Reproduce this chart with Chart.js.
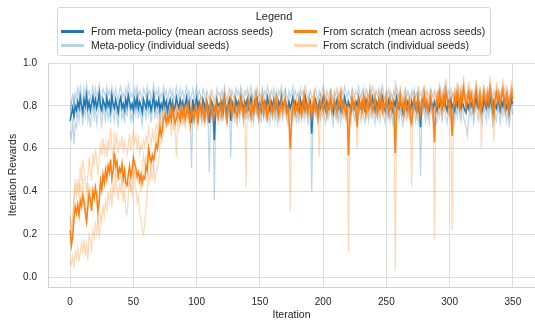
<!DOCTYPE html>
<html><head><meta charset="utf-8">
<script src="https://cdn.jsdelivr.net/npm/chart.js@4/dist/chart.umd.min.js"></script>
<style>
html,body{margin:0;padding:0;background:#fff;}
#wrap{position:relative;width:535px;height:322px;}
#legend{position:absolute;left:57px;top:7px;width:434px;height:49px;border:1px solid #d6d6d6;border-radius:3px;background:rgba(255,255,255,0.85);font-family:"Liberation Sans",Arial,sans-serif;color:#262626;box-sizing:border-box;}
#legend .t{position:absolute;left:0;right:0;top:2px;text-align:center;font-size:11px;line-height:13px;}
#legend .it{position:absolute;font-size:10.5px;line-height:12px;white-space:nowrap;}
#legend .sw{position:absolute;width:23px;height:2.5px;}
</style>
</head><body>
<div id="wrap">
<canvas id="c" width="535" height="322"></canvas>
<div id="legend">
  <div class="t">Legend</div>
  <div class="sw" style="left:3px;top:22px;background:#1f77b4"></div>
  <div class="it" style="left:33px;top:17px">From meta-policy (mean across seeds)</div>
  <div class="sw" style="left:3px;top:36px;background:#b8d2e6"></div>
  <div class="it" style="left:33px;top:31px">Meta-policy (individual seeds)</div>
  <div class="sw" style="left:236px;top:22px;background:#ff7f0e"></div>
  <div class="it" style="left:265px;top:17px">From scratch (mean across seeds)</div>
  <div class="sw" style="left:236px;top:36px;background:#ffd6b4"></div>
  <div class="it" style="left:265px;top:31px">From scratch (individual seeds)</div>
</div>
</div>
<script>
const xTicks = [0, 50, 100, 150, 200, 250, 300, 350];
const yTicks = [0.0, 0.2, 0.4, 0.6, 0.8, 1.0];

// From meta-policy (mean across seeds)
const metaMean = [
.73,.76,.79,.75,.80,.78,.82,.79,.84,.80,
.77,.83,.80,.85,.79,.82,.78,.81,.84,.80,
.83,.79,.82,.86,.80,.78,.83,.81,.79,.84,
.80,.82,.78,.85,.81,.79,.83,.80,.77,.82,
.84,.79,.81,.78,.83,.80,.85,.82,.79,.81,
.78,.83,.80,.84,.79,.82,.80,.77,.83,.81,
.79,.84,.80,.82,.78,.81,.85,.79,.82,.80,
.83,.78,.81,.79,.84,.80,.82,.77,.81,.83,
.79,.82,.78,.80,.84,.81,.79,.83,.80,.82,
.78,.81,.84,.79,.82,.77,.72,.83,.78,.81,
.84,.79,.82,.80,.78,.83,.81,.77,.82,.80,
.72,.79,.82,.80,.64,.78,.83,.80,.81,.79,
.82,.78,.84,.80,.77,.81,.83,.73,.82,.80,
.78,.83,.80,.82,.79,.84,.81,.78,.82,.80,
.83,.79,.81,.84,.80,.78,.82,.80,.83,.79,
.81,.78,.83,.80,.82,.79,.84,.81,.78,.82,
.80,.83,.79,.81,.78,.82,.80,.84,.79,.81,
.83,.80,.78,.82,.79,.81,.84,.80,.82,.79,
.81,.78,.83,.80,.82,.79,.84,.81,.78,.80,
.82,.67,.79,.81,.83,.80,.78,.82,.79,.81,
.84,.80,.78,.82,.79,.81,.83,.80,.77,.82,
.80,.83,.79,.81,.78,.82,.80,.84,.81,.79,
.82,.80,.78,.83,.81,.79,.82,.80,.84,.81,
.79,.82,.80,.78,.83,.81,.79,.82,.80,.84,
.81,.78,.82,.80,.83,.79,.81,.84,.80,.78,
.82,.80,.83,.79,.81,.78,.82,.80,.84,.81,
.79,.82,.80,.77,.81,.83,.79,.82,.80,.78,
.82,.80,.83,.79,.81,.78,.82,.70,.80,.83,
.81,.79,.82,.80,.78,.83,.81,.79,.82,.80,
.78,.82,.80,.83,.79,.81,.84,.80,.78,.82,
.80,.83,.79,.81,.78,.82,.80,.84,.81,.79,
.82,.80,.78,.77,.81,.79,.83,.80,.82,.78,
.81,.84,.80,.79,.82,.80,.78,.83,.81,.79,
.82,.80,.84,.81,.78,.82,.80,.79,.83,.81,
.78,.82,.80,.84,.81,.79,.82,.77,.80,.83,
.81];

// Meta-policy (individual seeds)
const metaSeed1 = [
.68,.65,.74,.62,.72,.70,.78,.73,.80,.76,
.71,.79,.75,.82,.73,.77,.70,.76,.80,.74,
.79,.72,.77,.84,.75,.71,.80,.76,.73,.81,
.74,.78,.72,.82,.77,.73,.80,.75,.70,.79,
.81,.74,.77,.72,.80,.75,.83,.78,.73,.77,
.72,.80,.76,.82,.74,.79,.75,.71,.80,.77,
.74,.81,.76,.79,.72,.78,.83,.74,.79,.75,
.80,.73,.78,.74,.82,.76,.79,.71,.77,.80,
.75,.79,.72,.77,.81,.76,.74,.80,.75,.78,
.73,.77,.82,.74,.79,.72,.51,.80,.73,.77,
.81,.74,.79,.76,.72,.80,.77,.71,.79,.75,
.49,.74,.79,.76,.36,.73,.80,.76,.78,.74,
.79,.73,.81,.76,.71,.78,.80,.56,.79,.76,
.73,.80,.76,.79,.74,.81,.77,.72,.79,.75,
.80,.74,.77,.81,.75,.72,.79,.76,.80,.73,
.77,.72,.80,.75,.79,.73,.81,.77,.72,.79,
.75,.80,.73,.77,.72,.79,.75,.81,.74,.77,
.80,.75,.72,.79,.74,.77,.81,.75,.79,.73,
.77,.72,.80,.75,.79,.74,.81,.77,.72,.75,
.79,.40,.74,.77,.80,.75,.72,.79,.74,.77,
.81,.75,.72,.79,.74,.77,.80,.75,.71,.79,
.75,.80,.73,.77,.72,.79,.75,.81,.77,.73,
.79,.75,.72,.80,.77,.73,.79,.75,.81,.77,
.73,.79,.75,.72,.80,.77,.73,.79,.75,.81,
.77,.72,.79,.75,.80,.73,.77,.81,.75,.72,
.79,.75,.80,.73,.77,.72,.79,.75,.81,.77,
.73,.79,.75,.71,.77,.80,.73,.79,.75,.72,
.79,.75,.80,.73,.77,.72,.79,.47,.75,.80,
.77,.73,.79,.75,.72,.80,.77,.73,.79,.75,
.72,.79,.75,.80,.73,.77,.81,.75,.72,.79,
.75,.80,.73,.77,.72,.79,.75,.81,.77,.73,
.79,.75,.72,.70,.66,.73,.80,.75,.79,.72,
.77,.81,.75,.73,.79,.75,.72,.80,.77,.73,
.79,.75,.81,.77,.72,.79,.75,.73,.80,.77,
.72,.79,.75,.81,.77,.73,.79,.70,.75,.80,
.76];
const metaSeed2 = [
.78,.82,.85,.80,.86,.83,.88,.84,.89,.85,
.82,.88,.84,.90,.85,.87,.83,.86,.89,.84,
.88,.84,.87,.90,.85,.83,.88,.86,.84,.89,
.85,.87,.83,.89,.86,.84,.88,.85,.82,.87,
.89,.84,.86,.83,.88,.85,.90,.87,.84,.86,
.83,.88,.85,.89,.84,.87,.85,.82,.88,.86,
.84,.89,.85,.87,.83,.86,.90,.84,.87,.85,
.88,.83,.86,.84,.89,.85,.87,.82,.86,.88,
.84,.87,.83,.85,.89,.86,.84,.88,.85,.87,
.83,.86,.89,.84,.87,.82,.85,.88,.83,.86,
.89,.84,.87,.85,.83,.88,.86,.82,.87,.85,
.83,.84,.87,.85,.82,.83,.88,.85,.86,.84,
.87,.83,.89,.85,.82,.86,.88,.84,.87,.85,
.83,.88,.85,.87,.84,.89,.86,.83,.87,.85,
.88,.84,.86,.89,.85,.83,.87,.85,.88,.84,
.86,.83,.88,.85,.87,.84,.89,.86,.83,.87,
.85,.88,.84,.86,.83,.87,.85,.89,.84,.86,
.88,.85,.83,.87,.84,.86,.89,.85,.87,.84,
.86,.83,.88,.85,.87,.84,.89,.86,.83,.85,
.87,.84,.84,.86,.88,.85,.83,.87,.84,.86,
.89,.85,.83,.87,.84,.86,.88,.85,.82,.87,
.85,.88,.84,.86,.83,.87,.85,.89,.86,.84,
.87,.85,.83,.88,.86,.84,.87,.85,.89,.86,
.84,.87,.85,.83,.88,.86,.84,.87,.85,.89,
.86,.83,.87,.85,.88,.84,.86,.89,.85,.83,
.87,.85,.88,.84,.86,.83,.87,.85,.89,.86,
.84,.87,.85,.82,.86,.88,.84,.87,.85,.83,
.87,.85,.88,.84,.86,.83,.87,.85,.85,.88,
.86,.84,.87,.85,.83,.88,.86,.84,.87,.85,
.83,.87,.85,.88,.84,.86,.89,.85,.83,.87,
.85,.88,.84,.86,.83,.87,.85,.89,.86,.84,
.87,.85,.83,.84,.86,.84,.88,.85,.87,.83,
.86,.89,.85,.84,.87,.85,.83,.88,.86,.84,
.87,.85,.89,.86,.83,.87,.85,.84,.88,.86,
.83,.87,.85,.89,.86,.84,.87,.82,.85,.88,
.86];
const metaSeed3 = [
.73,.81,.78,.84,.80,.76,.82,.79,.85,.80,
.76,.83,.80,.84,.78,.82,.77,.81,.85,.79,
.83,.79,.81,.86,.78,.80,.82,.79,.77,.83,
.79,.81,.77,.84,.80,.78,.82,.79,.76,.81,
.83,.78,.80,.77,.82,.79,.84,.81,.78,.80,
.77,.82,.79,.83,.78,.81,.79,.76,.82,.80,
.78,.83,.79,.81,.77,.80,.84,.78,.81,.79,
.82,.77,.80,.78,.83,.79,.81,.76,.80,.82,
.78,.81,.77,.79,.83,.80,.78,.82,.79,.81,
.77,.80,.83,.78,.81,.76,.79,.82,.77,.80,
.83,.78,.81,.79,.77,.82,.80,.76,.81,.79,
.78,.78,.81,.79,.72,.78,.82,.79,.80,.78,
.81,.77,.83,.79,.76,.80,.82,.78,.81,.79,
.77,.82,.79,.81,.78,.83,.80,.77,.81,.79,
.82,.78,.80,.83,.79,.77,.81,.79,.82,.78,
.80,.77,.82,.79,.81,.78,.83,.80,.77,.81,
.79,.82,.78,.80,.77,.81,.79,.83,.78,.80,
.82,.79,.77,.81,.78,.80,.83,.79,.81,.78,
.80,.77,.82,.79,.81,.78,.83,.80,.77,.79,
.81,.78,.78,.80,.82,.79,.77,.81,.78,.80,
.83,.79,.77,.81,.78,.80,.82,.79,.76,.81,
.79,.82,.78,.80,.77,.81,.79,.83,.80,.78,
.81,.79,.77,.82,.80,.78,.81,.79,.83,.80,
.78,.81,.79,.77,.82,.80,.78,.81,.79,.83,
.80,.77,.81,.79,.82,.78,.80,.83,.79,.77,
.81,.79,.82,.78,.80,.77,.81,.79,.83,.80,
.78,.81,.79,.76,.80,.82,.78,.81,.79,.77,
.81,.79,.82,.78,.80,.77,.81,.78,.79,.82,
.80,.78,.81,.79,.77,.82,.80,.78,.81,.79,
.77,.81,.79,.82,.78,.80,.83,.79,.77,.81,
.79,.82,.78,.80,.77,.81,.79,.83,.80,.78,
.81,.79,.77,.76,.80,.78,.82,.79,.81,.77,
.80,.83,.79,.78,.81,.79,.77,.82,.80,.78,
.81,.79,.83,.80,.77,.81,.79,.78,.82,.80,
.77,.81,.79,.83,.80,.78,.81,.76,.79,.82,
.80];

// From scratch (mean across seeds)
const scratchMean = [
.22,.15,.19,.27,.33,.30,.34,.29,.36,.33,
.38,.35,.30,.26,.33,.39,.36,.31,.40,.37,
.42,.38,.31,.36,.45,.41,.48,.44,.50,.46,
.52,.49,.55,.46,.50,.58,.52,.54,.47,.51,
.49,.53,.46,.50,.44,.43,.48,.52,.47,.50,
.56,.53,.51,.47,.49,.45,.48,.44,.47,.46,
.52,.50,.60,.56,.54,.57,.55,.58,.62,.60,
.65,.70,.66,.69,.74,.76,.72,.75,.73,.77,
.73,.78,.75,.72,.74,.77,.76,.73,.79,.75,
.78,.74,.77,.80,.75,.72,.78,.76,.74,.79,
.77,.73,.78,.80,.76,.79,.74,.77,.81,.75,
.78,.82,.76,.74,.79,.77,.80,.75,.78,.81,
.76,.79,.83,.77,.74,.80,.78,.82,.76,.79,
.81,.77,.75,.80,.78,.83,.79,.76,.80,.77,
.78,.82,.79,.75,.81,.77,.80,.84,.78,.76,
.80,.79,.83,.77,.81,.78,.75,.80,.82,.79,
.77,.81,.78,.83,.80,.76,.79,.82,.78,.80,
.83,.77,.79,.74,.60,.72,.79,.81,.77,.80,
.78,.82,.79,.76,.81,.84,.78,.80,.77,.82,
.79,.76,.81,.83,.78,.80,.75,.79,.82,.80,
.78,.83,.80,.77,.81,.79,.84,.78,.80,.82,
.79,.77,.82,.80,.85,.78,.81,.79,.76,.80,
.57,.74,.80,.83,.79,.81,.77,.70,.82,.79,
.81,.78,.84,.80,.77,.82,.79,.85,.81,.78,
.80,.83,.79,.77,.82,.80,.84,.78,.81,.79,
.83,.80,.77,.82,.79,.81,.78,.58,.76,.82,
.80,.84,.79,.81,.77,.83,.80,.78,.82,.75,
.72,.79,.83,.81,.78,.84,.80,.77,.82,.80,
.85,.79,.82,.78,.81,.84,.80,.77,.63,.79,
.83,.80,.86,.82,.79,.84,.81,.87,.83,.80,
.82,.78,.66,.80,.84,.81,.86,.83,.79,.85,
.82,.88,.84,.80,.83,.86,.81,.85,.82,.79,
.84,.87,.83,.80,.85,.78,.82,.86,.83,.81,
.85,.82,.88,.84,.80,.76,.83,.86,.82,.85,
.81,.84,.87,.83,.79,.85,.82,.78,.84,.86,
.83];

// From scratch (individual seeds)
const scratchSeed1 = [
.08,.06,.10,.04,.12,.09,.14,.08,.11,.16,
.12,.18,.10,.15,.08,.20,.17,.13,.22,.19,
.25,.21,.28,.18,.30,.26,.34,.29,.36,.31,
.40,.35,.42,.33,.45,.38,.48,.41,.36,.44,
.39,.47,.35,.42,.30,.29,.38,.45,.40,.48,
.52,.46,.41,.35,.38,.30,.27,.22,.20,.25,
.33,.40,.48,.45,.52,.57,.50,.62,.66,.60,
.68,.72,.65,.70,.74,.78,.71,.76,.73,.79,
.74,.80,.77,.70,.56,.75,.79,.72,.81,.76,
.80,.73,.78,.83,.74,.70,.80,.77,.72,.81,
.78,.71,.80,.83,.75,.81,.72,.78,.84,.74,
.79,.85,.74,.72,.81,.76,.83,.73,.79,.84,
.74,.80,.86,.76,.71,.82,.77,.85,.74,.80,
.83,.75,.72,.81,.77,.86,.80,.74,.81,.42,
.77,.84,.80,.73,.83,.76,.81,.87,.77,.74,
.82,.78,.85,.75,.83,.77,.72,.81,.84,.78,
.75,.83,.77,.86,.81,.73,.80,.84,.76,.81,
.85,.75,.80,.72,.31,.70,.80,.83,.75,.81,
.77,.85,.80,.74,.83,.87,.76,.82,.75,.84,
.80,.73,.83,.86,.77,.81,.72,.56,.84,.81,
.76,.86,.81,.74,.83,.78,.88,.76,.81,.84,
.78,.74,.85,.80,.89,.76,.83,.78,.73,.81,
.12,.70,.81,.86,.78,.83,.75,.60,.85,.79,
.83,.76,.88,.80,.74,.85,.78,.90,.82,.76,
.81,.86,.77,.74,.84,.80,.88,.76,.83,.78,
.86,.80,.74,.85,.78,.82,.76,.03,.73,.85,
.81,.89,.77,.83,.74,.87,.80,.76,.84,.72,
.42,.78,.87,.82,.76,.89,.80,.74,.85,.80,
.90,.77,.84,.75,.82,.88,.80,.74,.18,.78,
.87,.80,.91,.84,.76,.88,.82,.93,.85,.79,
.84,.75,.22,.80,.89,.82,.91,.85,.77,.90,
.83,.94,.86,.78,.85,.91,.80,.88,.83,.76,
.87,.92,.84,.78,.89,.60,.81,.90,.85,.80,
.89,.82,.94,.86,.78,.63,.84,.91,.81,.88,
.79,.86,.93,.84,.76,.90,.81,.74,.87,.92,
.84];
const scratchSeed2 = [
.29,.22,.27,.35,.42,.38,.46,.40,.52,.45,
.55,.50,.44,.40,.47,.56,.50,.45,.58,.52,
.60,.54,.48,.55,.62,.57,.65,.58,.63,.56,
.64,.59,.70,.60,.55,.68,.62,.66,.58,.63,
.61,.66,.58,.63,.60,.57,.62,.67,.59,.64,
.68,.63,.66,.60,.65,.58,.62,.60,.64,.61,
.66,.63,.70,.65,.62,.68,.64,.67,.71,.69,
.72,.76,.70,.74,.79,.80,.75,.78,.74,.80,
.78,.82,.79,.76,.77,.81,.80,.75,.83,.78,
.81,.77,.80,.84,.78,.75,.82,.79,.77,.83,
.80,.76,.82,.84,.79,.83,.77,.80,.85,.78,
.81,.86,.79,.77,.83,.80,.84,.78,.81,.85,
.79,.82,.87,.80,.77,.84,.81,.86,.79,.82,
.85,.80,.78,.83,.81,.87,.82,.79,.83,.80,
.81,.86,.82,.78,.85,.80,.83,.88,.81,.79,
.83,.82,.87,.80,.84,.81,.78,.83,.86,.82,
.80,.84,.81,.87,.83,.79,.82,.86,.81,.83,
.87,.80,.82,.77,.78,.76,.82,.84,.80,.83,
.81,.86,.82,.79,.84,.88,.81,.83,.80,.86,
.82,.79,.84,.87,.81,.83,.78,.82,.86,.83,
.81,.87,.83,.80,.84,.82,.88,.81,.83,.86,
.82,.80,.86,.83,.89,.81,.84,.82,.79,.83,
.80,.77,.83,.87,.82,.84,.80,.75,.86,.82,
.84,.81,.88,.83,.80,.86,.82,.89,.84,.81,
.83,.87,.82,.80,.86,.83,.88,.81,.84,.82,
.87,.83,.80,.86,.82,.84,.81,.92,.79,.86,
.83,.88,.82,.84,.80,.87,.83,.81,.86,.78,
.86,.81,.86,.84,.81,.88,.83,.80,.86,.83,
.89,.82,.85,.81,.84,.87,.83,.80,.86,.82,
.86,.83,.89,.85,.82,.87,.84,.90,.86,.83,
.85,.81,.86,.83,.87,.84,.89,.86,.82,.88,
.85,.91,.87,.83,.86,.89,.84,.87,.85,.82,
.86,.90,.86,.83,.88,.82,.85,.89,.86,.84,
.88,.85,.91,.87,.83,.80,.86,.89,.85,.87,
.84,.87,.90,.86,.82,.88,.85,.81,.87,.89,
.86];
const scratchSeed3 = [
.28,.18,.22,.38,.45,.42,.40,.38,.44,.37,
.46,.36,.34,.24,.44,.40,.42,.36,.40,.42,
.41,.39,.25,.35,.44,.40,.46,.44,.50,.52,
.52,.53,.54,.45,.50,.62,.47,.55,.47,.46,
.47,.46,.45,.45,.42,.44,.43,.45,.42,.38,
.48,.50,.46,.46,.44,.47,.40,.50,.57,.52,
.57,.47,.62,.58,.48,.46,.51,.45,.49,.51,
.55,.62,.63,.63,.69,.70,.70,.71,.72,.72,
.67,.72,.69,.70,.79,.75,.69,.72,.73,.71,
.73,.70,.74,.77,.72,.69,.75,.73,.71,.76,
.74,.70,.75,.77,.73,.76,.71,.74,.78,.72,
.75,.78,.73,.71,.76,.74,.77,.72,.75,.78,
.73,.76,.80,.74,.72,.77,.75,.79,.73,.76,
.78,.74,.71,.77,.75,.80,.76,.73,.77,.74,
.75,.79,.76,.72,.78,.74,.77,.81,.75,.73,
.77,.76,.80,.74,.78,.75,.72,.77,.79,.76,
.74,.78,.75,.80,.77,.73,.76,.79,.75,.77,
.80,.74,.76,.72,.71,.70,.76,.79,.74,.77,
.75,.79,.76,.73,.78,.81,.75,.77,.74,.79,
.76,.73,.78,.80,.75,.77,.72,.75,.79,.76,
.74,.80,.77,.74,.78,.76,.82,.75,.77,.79,
.76,.73,.80,.77,.82,.75,.78,.76,.73,.77,
.74,.70,.77,.80,.76,.79,.74,.71,.79,.76,
.78,.75,.82,.77,.74,.80,.76,.83,.78,.75,
.77,.80,.76,.74,.79,.77,.81,.75,.78,.76,
.81,.77,.74,.80,.76,.79,.75,.78,.74,.80,
.77,.82,.76,.79,.74,.81,.77,.75,.80,.73,
.72,.76,.81,.78,.75,.82,.77,.74,.80,.77,
.83,.76,.79,.74,.78,.81,.77,.74,.69,.76,
.80,.77,.83,.79,.75,.81,.78,.84,.80,.76,
.79,.74,.72,.77,.82,.78,.84,.80,.76,.83,
.79,.86,.81,.76,.80,.84,.77,.82,.79,.75,
.81,.85,.80,.76,.83,.74,.79,.84,.80,.78,
.82,.79,.86,.81,.76,.72,.80,.84,.79,.82,
.77,.81,.85,.80,.75,.83,.79,.73,.81,.84,
.80];

const iterations = metaMean.map((_, i) => i);

const FONT = '"Liberation Sans", Arial, sans-serif';
const BLUE = '#1f77b4', BLUE_L = 'rgba(31,119,180,0.3)';
const ORANGE = '#ff7f0e', ORANGE_L = 'rgba(255,127,14,0.3)';

function ds(label, data, color, width) {
  return { label, data, borderColor: color, backgroundColor: color, borderWidth: width,
           pointRadius: 0, pointHoverRadius: 0, fill: false, tension: 0 };
}

new Chart(document.getElementById('c'), {
  type: 'line',
  data: {
    labels: iterations,
    datasets: [
      ds('From scratch (mean across seeds)', scratchMean, ORANGE, 1.5),
      ds('From scratch (individual seeds)', scratchSeed1, ORANGE_L, 1.2),
      ds('From scratch (individual seeds)', scratchSeed2, ORANGE_L, 1.2),
      ds('From scratch (individual seeds)', scratchSeed3, ORANGE_L, 1.2),
      ds('From meta-policy (mean across seeds)', metaMean, BLUE, 1.5),
      ds('Meta-policy (individual seeds)', metaSeed1, BLUE_L, 1.2),
      ds('Meta-policy (individual seeds)', metaSeed2, BLUE_L, 1.2),
      ds('Meta-policy (individual seeds)', metaSeed3, BLUE_L, 1.2)
    ]
  },
  options: {
    responsive: false, animation: false, devicePixelRatio: 1,
    layout: { padding: { top: 63, left: 0, right: 0, bottom: 0 } },
    plugins: { legend: { display: false }, tooltip: { enabled: false } },
    events: [],
    scales: {
      x: {
        type: 'linear', min: -17.5, max: 367.5,
        afterBuildTicks: s => { s.ticks = xTicks.map(v => ({ value: v })); },
        afterFit: s => { s.height = 35; },
        grid: { color: '#dcdcdc', lineWidth: 1, drawTicks: false },
        border: { color: '#d0d0d0', width: 1 },
        ticks: { padding: 9, color: '#262626', font: { family: FONT, size: 10 }, maxRotation: 0, autoSkip: false },
        title: { display: true, text: 'Iteration', color: '#262626', font: { family: FONT, size: 10.5 }, padding: { top: 0, bottom: 1 } }
      },
      y: {
        type: 'linear', min: -0.045, max: 1.0,
        afterBuildTicks: s => { s.ticks = yTicks.map(v => ({ value: v })); },
        afterFit: s => { s.width = 48; },
        grid: { color: '#dcdcdc', lineWidth: 1, drawTicks: false },
        border: { color: '#d0d0d0', width: 1 },
        ticks: { padding: 11, color: '#262626', font: { family: FONT, size: 10 }, callback: v => v.toFixed(1) },
        title: { display: true, text: 'Iteration Rewards', color: '#262626', font: { family: FONT, size: 10.5 }, padding: { top: 7, bottom: 0 } }
      }
    }
  }
});
</script>
</body></html>
